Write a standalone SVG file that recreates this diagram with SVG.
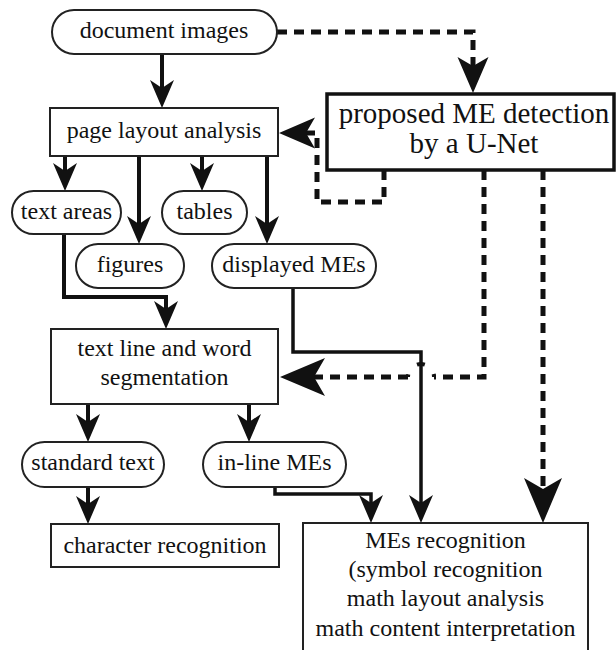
<svg xmlns="http://www.w3.org/2000/svg" width="616" height="650" viewBox="0 0 616 650">
<style>
  .box{fill:#fff;stroke:#222;stroke-width:2}
  .pbox{fill:#fff;stroke:#111;stroke-width:3.5}
  text{font-family:'Liberation Serif','Times New Roman','DejaVu Serif',serif;fill:#111;text-anchor:middle}
  .t{font-size:24px}
  .tb{font-size:29px}
  .s{fill:none;stroke:#111;stroke-width:4}
  .d{fill:none;stroke:#111;stroke-width:5;stroke-dasharray:10 7}
</style>
<defs>
  <marker id="as" markerUnits="userSpaceOnUse" markerWidth="30" markerHeight="30" refX="8" refY="0" orient="auto" overflow="visible">
    <path d="M0,-12 L28,0 L0,12 L8,0 Z" fill="#111"/>
  </marker>
  <marker id="am" markerUnits="userSpaceOnUse" markerWidth="40" markerHeight="40" refX="9" refY="0" orient="auto" overflow="visible">
    <path d="M0,-15.5 L36,0 L0,15.5 L9,0 Z" fill="#111"/>
  </marker>
  <marker id="ab" markerUnits="userSpaceOnUse" markerWidth="50" markerHeight="50" refX="11" refY="0" orient="auto" overflow="visible">
    <path d="M0,-19 L45,0 L0,19 L11,0 Z" fill="#111"/>
  </marker>
</defs>

<g id="connectors">
  <path class="s" d="M162,54 V88" marker-end="url(#as)"/>
  <path class="s" d="M65,156 V171" marker-end="url(#as)"/>
  <path class="s" d="M139,156 V224" marker-end="url(#as)"/>
  <path class="s" d="M202,156 V171" marker-end="url(#as)"/>
  <path class="s" d="M267,156 V224" marker-end="url(#as)"/>
  <path class="s" d="M64,234 V297 H166 V309" marker-end="url(#as)"/>
  <path class="s" d="M88,404 V422" marker-end="url(#as)"/>
  <path class="s" d="M249,404 V422" marker-end="url(#as)"/>
  <path class="s" d="M88,487 V504" marker-end="url(#as)"/>
  <path class="s" style="stroke-width:3.5" d="M275,487 V494 H371 V503" marker-end="url(#as)"/>
  <path class="s" style="stroke-width:3.5" d="M293,288 V352 H421 V503" marker-end="url(#as)"/>
  <path class="d" d="M277,32 H473 V66" marker-end="url(#am)"/>
  <path class="d" d="M384,170 V202 H317 V133 H306" marker-end="url(#am)"/>
  <path class="d" d="M484,170 V377 H434"/>
  <path class="d" style="stroke-width:4;stroke-dasharray:3 13.4 8 13.4 3" d="M434,377 A13,13 0 0 0 408,377"/>
  <path class="d" d="M408,377 H314" marker-end="url(#ab)"/>
  <path class="d" d="M543,170 V489" marker-end="url(#ab)"/>
</g>

<g id="document-images">
  <rect class="box" x="52" y="10" width="225" height="44" rx="22"/>
  <text class="t" x="164" y="38">document images</text>
</g>
<g id="proposed-me-detection">
  <rect class="pbox" x="327" y="94" width="287" height="76"/>
  <text class="tb" x="474" y="123">proposed ME detection</text>
  <text class="tb" x="474" y="153">by a U-Net</text>
</g>
<g id="page-layout-analysis">
  <rect class="box" x="50" y="108" width="228" height="48"/>
  <text class="t" x="164" y="138">page layout analysis</text>
</g>
<g id="text-areas">
  <rect class="box" x="12" y="191" width="109" height="43" rx="21.5"/>
  <text class="t" x="66.5" y="219">text areas</text>
</g>
<g id="tables">
  <rect class="box" x="162" y="191" width="85" height="43" rx="21.5"/>
  <text class="t" x="204.5" y="219">tables</text>
</g>
<g id="figures">
  <rect class="box" x="76" y="244" width="108" height="44" rx="22"/>
  <text class="t" x="130" y="272">figures</text>
</g>
<g id="displayed-mes">
  <rect class="box" x="212" y="244" width="164" height="44" rx="22"/>
  <text class="t" x="294" y="272">displayed MEs</text>
</g>
<g id="text-line-word-segmentation">
  <rect class="box" x="51" y="329" width="227" height="75"/>
  <text class="t" x="164.5" y="356">text line and word</text>
  <text class="t" x="164.5" y="385">segmentation</text>
</g>
<g id="standard-text">
  <rect class="box" x="22" y="442" width="142" height="45" rx="22.5"/>
  <text class="t" x="93" y="470">standard text</text>
</g>
<g id="in-line-mes">
  <rect class="box" x="203" y="442" width="143" height="45" rx="22.5"/>
  <text class="t" x="274.5" y="470">in-line MEs</text>
</g>
<g id="character-recognition">
  <rect class="box" x="51" y="524" width="228" height="43"/>
  <text class="t" x="165" y="553">character recognition</text>
</g>
<g id="mes-recognition">
  <rect class="box" x="303" y="523" width="285" height="140"/>
  <text class="t" x="445.5" y="548">MEs recognition</text>
  <text class="t" x="445.5" y="577">(symbol recognition</text>
  <text class="t" x="445.5" y="606">math layout analysis</text>
  <text class="t" x="445.5" y="636">math content interpretation</text>
</g>
</svg>
